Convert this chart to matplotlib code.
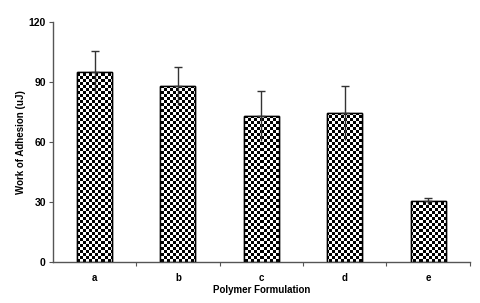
import numpy as np
import matplotlib
matplotlib.use('Agg')
from matplotlib import pyplot as plt

categories = ['a', 'b', 'c', 'd', 'e']
work = [95, 88, 73, 74.5, 30.5]
err = [10.5, 9.5, 12.5, 13.5, 1.5]

plt.rcParams['font.family'] = ['Liberation Sans', 'DejaVu Sans']
plt.rcParams['font.weight'] = 'bold'

fig = plt.figure(figsize=(4.8, 3.03), dpi=100)
ax = fig.add_axes([0.110, 0.135, 0.869, 0.792])

x = np.arange(len(categories))
bars = ax.bar(x, work, width=0.42, facecolor='white', edgecolor='black', linewidth=1.0, zorder=2)

# checkerboard fill, clipped to each bar
ny, nx = 80, 139
yy, xx = np.mgrid[0:ny, 0:nx]
checker = ((xx + yy) % 2).astype(float)
for b in bars:
    im = ax.imshow(checker, cmap='gray', extent=(-0.5, 4.5, 0, 120), origin='lower',
                   interpolation='nearest', aspect='auto', zorder=2.5)
    im.set_clip_path(b)
for b in bars:
    ax.add_patch(plt.Rectangle(b.get_xy(), b.get_width(), b.get_height(), fill=False,
                               edgecolor='black', linewidth=1.0, zorder=3))

zeros = [0] * len(err)
# upper part with cap, lower part plain (cap hidden in the pattern)
ax.errorbar(x, work, yerr=[zeros, err], fmt='none', ecolor='#333333', elinewidth=1.0,
            capsize=3, capthick=1.0, zorder=4)
ax.errorbar(x, work, yerr=[err, zeros], fmt='none', ecolor='#333333', elinewidth=1.0,
            capsize=0, zorder=4)

ax.set_xlim(-0.5, 4.5)
ax.set_ylim(0, 120)
ax.set_yticks([0, 30, 60, 90, 120])
ax.set_xticks(x)
ax.set_xticklabels(categories)
ax.set_xticks(np.arange(0.5, 5.0, 1.0), minor=True)
ax.tick_params(axis='x', which='major', length=0, pad=8, labelsize=7)
ax.tick_params(axis='x', which='minor', length=3, width=0.8, color='#555555', direction='out')
ax.tick_params(axis='y', length=3, width=0.8, color='#555555', labelsize=7.5, pad=2)

for s in ['top', 'right']:
    ax.spines[s].set_visible(False)
for s in ['left', 'bottom']:
    ax.spines[s].set_color('#555555')
    ax.spines[s].set_linewidth(1.0)

ax.set_xlabel('Polymer Formulation', fontsize=7, fontweight='bold', labelpad=1)
ax.set_ylabel('Work of Adhesion (uJ)', fontsize=7, fontweight='bold', labelpad=2)

fig.savefig('out.png', dpi=100)
